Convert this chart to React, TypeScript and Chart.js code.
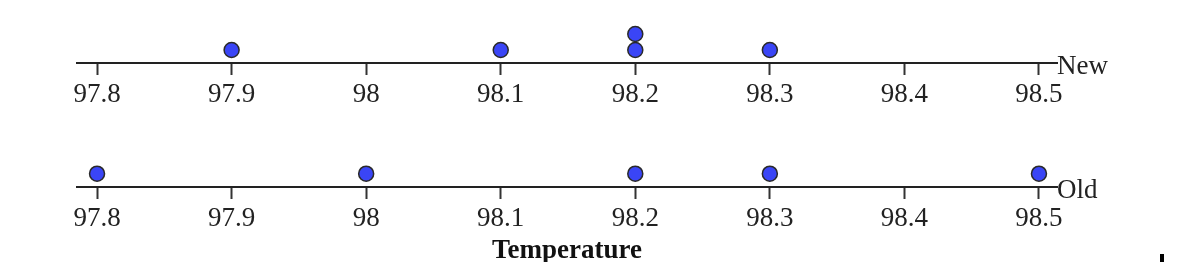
import React, { useEffect, useRef } from "react";
import { Chart, registerables } from "chart.js";

Chart.register(...registerables);

// ---- data ----
const newTemps = [97.9, 98.1, 98.2, 98.2, 98.3];
const oldTemps = [97.8, 98.0, 98.2, 98.3, 98.5];
const tickValues = [97.8, 97.9, 98.0, 98.1, 98.2, 98.3, 98.4, 98.5];
const groupLabels = ["New", "Old"];
const axisTitle = "Temperature";

const FONT = "'Liberation Serif', 'Times New Roman', serif";

function stackDots(values: number[]) {
  const counts: Record<string, number> = {};
  return values.map((v) => {
    const k = v.toFixed(1);
    counts[k] = (counts[k] || 0) + 1;
    return { x: v, y: counts[k] };
  });
}

type DotPlotProps = {
  values: number[];
  label: string;
  showTitle: boolean;
  top: number;
  height: number;
  padTop: number;
  padBottom: number;
  yMin: number;
  yMax: number;
};

function DotPlot({ values, label, showTitle, top, height, padTop, padBottom, yMin, yMax }: DotPlotProps) {
  const ref = useRef<HTMLCanvasElement | null>(null);

  useEffect(() => {
    if (!ref.current) return;
    const labelPlugin = {
      id: "groupLabel",
      afterDraw(chart: any) {
        const { ctx, chartArea } = chart;
        ctx.save();
        ctx.font = `27px ${FONT}`;
        ctx.fillStyle = "#222";
        ctx.textAlign = "left";
        ctx.textBaseline = "alphabetic";
        ctx.fillText(label, chartArea.right, chartArea.bottom + 11);
        ctx.restore();
      },
    };
    const chart = new Chart(ref.current, {
      type: "scatter",
      data: {
        datasets: [
          {
            data: stackDots(values),
            pointRadius: 7.5,
            pointHoverRadius: 7.5,
            backgroundColor: "#3a45f6",
            borderColor: "#2a2a2a",
            borderWidth: 1.5,
          },
        ],
      },
      options: {
        animation: false,
        responsive: false,
        maintainAspectRatio: false,
        events: [],
        layout: { padding: { left: 77, right: 137, top: padTop, bottom: padBottom } },
        plugins: { legend: { display: false }, tooltip: { enabled: false } },
        scales: {
          x: {
            type: "linear",
            min: 97.7851,
            max: 98.5134,
            afterBuildTicks: (s: any) => {
              s.ticks = tickValues.map((v) => ({ value: v }));
            },
            grid: {
              display: true,
              drawOnChartArea: false,
              drawTicks: true,
              tickLength: 12,
              tickWidth: 2,
              tickColor: "#333",
            },
            border: { display: true, color: "#222", width: 2 },
            ticks: {
              autoSkip: false,
              maxRotation: 0,
              padding: 6,
              color: "#222",
              font: { family: FONT, size: 27, lineHeight: 1 },
              callback: (v: any) => String(Number(Number(v).toFixed(1))),
            },
            title: {
              display: showTitle,
              text: axisTitle,
              color: "#111",
              font: { family: FONT, size: 27, weight: "bold", lineHeight: 0.8 },
              padding: { top: 2, bottom: 0 },
            },
          },
          y: { display: false, min: yMin, max: yMax },
        },
      },
      plugins: [labelPlugin],
    } as any);
    return () => chart.destroy();
  }, [values, label, showTitle, padTop, padBottom, yMin, yMax]);

  return (
    <canvas
      ref={ref}
      width={1194}
      height={height}
      style={{ position: "absolute", left: 0, top, display: "block" }}
    />
  );
}

export default function App() {
  return (
    <div style={{ position: "absolute", left: 0, top: 0, width: 1194, height: 262, background: "#fff", overflow: "hidden" }}>
      <DotPlot values={newTemps} label={groupLabels[0]} showTitle={false} top={0} height={114} padTop={10} padBottom={0} yMin={0.1875} yMax={3.5} />
      <DotPlot values={oldTemps} label={groupLabels[1]} showTitle={true} top={106} height={156} padTop={0} padBottom={0.4} yMin={0.0625} yMax={5.125} />
      <div style={{ position: "absolute", left: 1160, top: 254, width: 4, height: 8, background: "#000" }} />
    </div>
  );
}
